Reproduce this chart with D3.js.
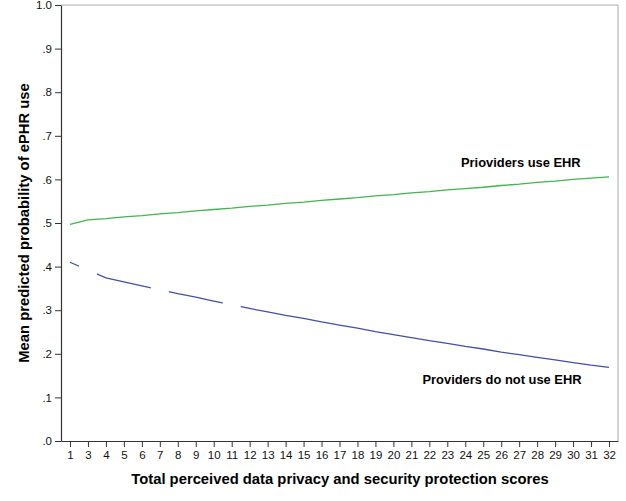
<!DOCTYPE html>
<html>
<head>
<meta charset="utf-8">
<script src="https://cdn.jsdelivr.net/npm/d3@7"></script>
<style>
  html, body { margin: 0; padding: 0; background: #fff; }
  svg { display: block; }
  text { font-family: Arial, "Liberation Sans", sans-serif; }
</style>
</head>
<body>
<svg id="chart" width="626" height="501"></svg>
<script>
// ---- data ----
const categories = [1,3,4,5,6,7,8,9,10,11,12,13,14,15,16,17,18,19,20,21,22,23,24,25,26,27,28,29,30,31,32];
const xTickLabels = categories.map(String);
const yTicks = [0,0.1,0.2,0.3,0.4,0.5,0.6,0.7,0.8,0.9,1.0];
const yTickLabels = [".0",".1",".2",".3",".4",".5",".6",".7",".8",".9","1.0"];
const seriesNames = ["Prioviders use EHR", "Providers do not use EHR"];
const useEHR = [0.497,0.507,0.510,0.514,0.517,0.521,0.524,0.528,0.531,0.534,0.538,0.541,0.545,0.548,0.552,0.555,
                0.558,0.562,0.565,0.569,0.572,0.576,0.579,0.582,0.586,0.589,0.593,0.596,0.600,0.603,0.606];
const noEHR = [0.410,null,0.374,0.365,0.356,null,0.338,0.330,0.321,null,0.304,0.296,0.288,0.281,0.273,0.266,
               0.259,0.251,0.244,0.237,0.230,0.224,0.217,0.211,0.204,0.198,0.192,0.186,0.180,0.174,0.169];
const xTitle = "Total perceived data privacy and security protection scores";
const yTitle = "Mean predicted probability of ePHR use";

// ---- layout ----
const svg = d3.select("#chart");
const plotL = 61, plotR = 618, plotT = 5, plotB = 441;

svg.append("rect").attr("width", 626).attr("height", 501).attr("fill", "#fff");

const x = d3.scalePoint().domain(categories).range([plotL, plotR]).padding(0.5);
const y = d3.scaleLinear().domain([0, 1]).range([plotB, plotT]);

// frame (top & right)
svg.append("line").attr("x1", plotL).attr("x2", plotR).attr("y1", plotT).attr("y2", plotT)
  .attr("stroke", "#d6d6d6").attr("stroke-width", 2);
svg.append("line").attr("x1", plotR).attr("x2", plotR).attr("y1", plotT).attr("y2", plotB)
  .attr("stroke", "#a8a8a8").attr("stroke-width", 1);

// axes
const yAxis = d3.axisLeft(y).tickValues(yTicks)
  .tickFormat((d, i) => yTickLabels[i]).tickSize(6).tickSizeOuter(0).tickPadding(3);
const gy = svg.append("g").attr("transform", `translate(${plotL},0)`).call(yAxis);

const xAxis = d3.axisBottom(x).tickFormat((d, i) => xTickLabels[i])
  .tickSize(6).tickSizeOuter(0).tickPadding(4);
const gx = svg.append("g").attr("transform", `translate(0,${plotB})`).call(xAxis);

[gx, gy].forEach(g => {
  g.selectAll(".domain").attr("stroke", "#333").attr("stroke-width", 1.2);
  g.selectAll(".tick line").attr("stroke", "#333");
  g.selectAll(".tick text").attr("fill", "#111").style("font-size", "11.5px")
    .style("font-family", "Arial, 'Liberation Sans', sans-serif");
});

// ---- lines ----
const line = d3.line().x(d => x(d.c)).y(d => y(d.v));

const greenData = categories.map((c, i) => ({c, v: useEHR[i]}));
svg.append("path").datum(greenData).attr("d", line)
  .attr("fill", "none").attr("stroke", "#45b350").attr("stroke-width", 1.3);

// blue: connect defined points, with gaps around missing categories
const step = x.step();
const mask = svg.append("defs").append("mask").attr("id", "gapmask")
  .attr("maskUnits", "userSpaceOnUse").attr("x", 0).attr("y", 0).attr("width", 626).attr("height", 501);
mask.append("rect").attr("x", 0).attr("y", 0).attr("width", 626).attr("height", 501).attr("fill", "#fff");
categories.forEach((c, i) => {
  if (noEHR[i] === null) {
    mask.append("rect").attr("x", x(c) - step / 2).attr("y", 0)
      .attr("width", step).attr("height", 501).attr("fill", "#000");
  }
});
const blueData = categories.map((c, i) => ({c, v: noEHR[i]})).filter(d => d.v !== null);
svg.append("path").datum(blueData).attr("d", line).attr("mask", "url(#gapmask)")
  .attr("fill", "none").attr("stroke", "#4152a0").attr("stroke-width", 1.3);

// ---- annotations ----
svg.append("text").attr("x", 461).attr("y", 167).text(seriesNames[0])
  .style("font-size", "12.9px").style("font-weight", "bold").attr("fill", "#000");
svg.append("text").attr("x", 422.5).attr("y", 383.5).text(seriesNames[1])
  .style("font-size", "12.9px").style("font-weight", "bold").attr("fill", "#000");

// ---- titles ----
svg.append("text").attr("x", 340).attr("y", 484).attr("text-anchor", "middle")
  .text(xTitle).style("font-size", "14.8px").style("font-weight", "bold").attr("fill", "#000");
svg.append("text").attr("transform", "translate(28.5,223) rotate(-90)").attr("text-anchor", "middle")
  .text(yTitle).style("font-size", "14.8px").style("font-weight", "bold").attr("fill", "#000");
</script>
</body>
</html>
